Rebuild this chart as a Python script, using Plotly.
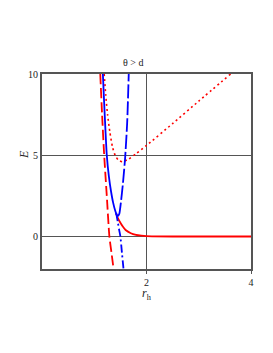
import plotly.graph_objects as go

# Read-off data
blue_solid_x = [1.165, 1.19, 1.215, 1.24, 1.28, 1.32, 1.36, 1.40, 1.43, 1.455]
blue_solid_y = [10, 8.2, 6.5, 5.0, 3.7, 2.8, 2.1, 1.6, 1.33, 1.25]

blue_dash_x = [1.455, 1.48, 1.51, 1.55, 1.59, 1.63, 1.66]
blue_dash_y = [1.25, 1.4, 2.1, 3.3, 4.8, 7.0, 10]

blue_dashdot_x = [1.42, 1.45, 1.48, 1.50, 1.53, 1.56]
blue_dashdot_y = [1.45, 0.9, 0.35, 0.0, -1.0, -2.0]

red_dash_x = [1.115, 1.15, 1.19, 1.24, 1.29, 1.33, 1.37]
red_dash_y = [10, 7.5, 5.0, 2.5, 0.0, -1.0, -2.0]

red_solid_x = [1.42, 1.45, 1.50, 1.55, 1.60, 1.70, 1.80, 1.90, 2.00, 2.50, 3.00, 4.00]
red_solid_y = [1.4, 1.15, 0.85, 0.6, 0.4, 0.2, 0.1, 0.05, 0.02, 0.0, 0.0, 0.0]

red_dot_x = [1.19, 1.22, 1.255, 1.30, 1.35, 1.40, 1.46, 1.54, 1.65, 1.80, 2.00, 2.50, 3.00, 3.61]
red_dot_y = [10, 8.7, 7.5, 6.4, 5.5, 5.0, 4.7, 4.6, 4.75, 5.1, 5.6, 6.95, 8.33, 10]

x_ticks = [2, 4]
y_ticks = [0, 5, 10]

RED = "#ff0000"
BLUE = "#0000ff"

fig = go.Figure()
fig.add_trace(go.Scatter(x=red_dot_x, y=red_dot_y, mode="lines",
                         line=dict(color=RED, width=1.6, dash="2px,3px", shape="spline", smoothing=0.6)))
fig.add_trace(go.Scatter(x=red_solid_x, y=red_solid_y, mode="lines",
                         line=dict(color=RED, width=1.8, shape="spline", smoothing=0.6)))
fig.add_trace(go.Scatter(x=red_dash_x, y=red_dash_y, mode="lines",
                         line=dict(color=RED, width=1.8, dash="10px,4px", shape="spline", smoothing=0.6)))
fig.add_trace(go.Scatter(x=blue_dashdot_x, y=blue_dashdot_y, mode="lines",
                         line=dict(color=BLUE, width=1.8, dash="8px,3px,2px,3px", shape="spline", smoothing=0.6)))
fig.add_trace(go.Scatter(x=blue_dash_x, y=blue_dash_y, mode="lines",
                         line=dict(color=BLUE, width=1.8, dash="14px,3px", shape="spline", smoothing=0.6)))
fig.add_trace(go.Scatter(x=blue_solid_x, y=blue_solid_y, mode="lines",
                         line=dict(color=BLUE, width=1.8, shape="spline", smoothing=0.6)))

# page body has an 8px default margin; plot area target: x 42..251, y 74..269
OFF = 8
W, H = 273 - OFF, 353 - OFF
L, T = 42 - OFF, 74 - OFF
R, B = 273 - 251, 353 - 269
PW, PH = 251 - 42, 269 - 74


def px(xp):
    return (xp - 42) / PW


def py(yp):
    return (269 - yp) / PH


font = dict(family="Liberation Serif", size=10, color="#222")
fig.update_layout(
    width=W, height=H,
    margin=dict(l=L, r=R, t=T, b=B, autoexpand=False),
    paper_bgcolor="white", plot_bgcolor="white",
    showlegend=False,
    font=font,
    xaxis=dict(range=[0, 4], tickvals=x_ticks, showgrid=True, gridcolor="#555", gridwidth=1,
               showline=True, linecolor="#555", linewidth=2, mirror=True,
               ticks="outside", ticklen=3, tickcolor="#555", zeroline=False),
    yaxis=dict(range=[-2, 10], tickvals=y_ticks, showgrid=True, gridcolor="#555", gridwidth=1,
               showline=True, linecolor="#555", linewidth=2, mirror=True,
               ticks="", zeroline=False),
    annotations=[
        dict(text="θ > d", x=px(133), y=py(62), xref="paper", yref="paper", showarrow=False,
             xanchor="center", yanchor="middle",
             font=dict(family="Liberation Serif", size=10, color="#222")),
        dict(text="<i>E</i>", textangle=-90, x=px(24), y=py(155), xref="paper", yref="paper",
             xanchor="center", yanchor="middle",
             showarrow=False, font=dict(family="Liberation Serif", size=12, color="#222")),
        dict(text="<i>r</i><sub>h</sub>", x=px(147), y=py(294), xref="paper", yref="paper",
             xanchor="center", yanchor="middle",
             showarrow=False, font=dict(family="Liberation Serif", size=12, color="#222")),
    ],
)

fig.write_html("out.html")
